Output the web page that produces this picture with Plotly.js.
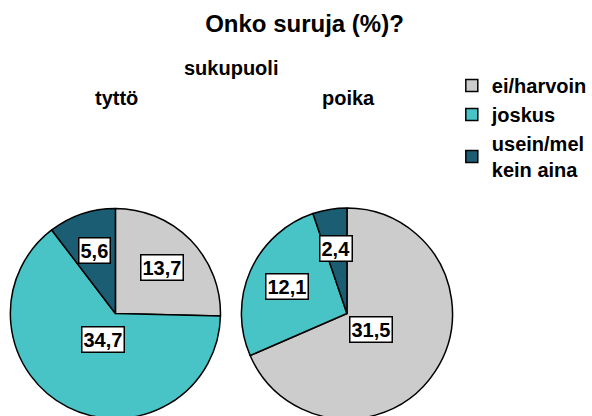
<!DOCTYPE html>
<html>
<head>
<meta charset="utf-8">
<script src="https://cdn.plot.ly/plotly-3.0.1.min.js"></script>
<style>
  html, body { margin: 0; padding: 0; overflow: hidden; background: #ffffff; }
  #chart { width: 592px; height: 440px; }
</style>
</head>
<body>
<div id="chart"></div>
<script>
// ---- data ----
const categories = ['ei/harvoin', 'joskus', 'usein/melkein aina'];
const legendLabels = ['ei/harvoin', 'joskus', 'usein/mel<br>kein aina'];
const groups = ['tyttö', 'poika'];
const tyttoValues = [13.7, 34.7, 5.6];
const poikaValues = [31.5, 12.1, 2.4];

// ---- style / layout ----
const colors = ['#cccccc', '#48c3c6', '#1b5e73'];
const W = 592, H = 440;
const FONT = 'Arial, "Liberation Sans", sans-serif';
const pieGeom = [
  { cx: 117, cy: 313.5, r: 106.5 },
  { cx: 351.7, cy: 313.5, r: 107 }
];
const seriesValues = [tyttoValues, poikaValues];

function domainOf(g) {
  return {
    x: [(g.cx - g.r) / W, (g.cx + g.r) / W],
    y: [(H - g.cy - g.r) / H, (H - g.cy + g.r) / H]
  };
}

const traces = seriesValues.map((vals, i) => ({
  type: 'pie',
  name: groups[i],
  labels: legendLabels,
  values: vals,
  sort: false,
  direction: 'clockwise',
  rotation: 0,
  textinfo: 'none',
  hovertemplate: groups[i] + '<br>%{label}: %{value}<extra></extra>',
  marker: { colors: colors, line: { color: '#000000', width: 1.5 } },
  domain: domainOf(pieGeom[i])
}));

// value labels, placed from each slice's mid-angle
const annotations = [];
seriesValues.forEach((vals, i) => {
  const g = pieGeom[i];
  const total = vals.reduce((a, b) => a + b, 0);
  let cum = 0;
  vals.forEach((v) => {
    const share = v / total;
    const mid = (cum + share / 2) * 2 * Math.PI;
    cum += share;
    const f = share > 0.5 ? 0.27 : 0.62;
    const px = g.cx + f * g.r * Math.sin(mid);
    const py = g.cy - f * g.r * Math.cos(mid);
    annotations.push({
      xref: 'paper', yref: 'paper',
      x: px / W, y: (H - py) / H,
      xanchor: 'center', yanchor: 'middle',
      text: v.toFixed(1).replace('.', ','),
      showarrow: false,
      font: { family: FONT, size: 20, color: '#000000', weight: 'bold' },
      bgcolor: '#ffffff', bordercolor: '#000000', borderwidth: 1.5, borderpad: 1
    });
  });
});

// headings
annotations.push({
  xref: 'paper', yref: 'paper', x: 234 / W, y: (H - 68) / H,
  xanchor: 'center', yanchor: 'middle', showarrow: false, text: 'sukupuoli',
  font: { family: FONT, size: 20, color: '#000000', weight: 'bold' }
});
groups.forEach((gname, i) => {
  annotations.push({
    xref: 'paper', yref: 'paper', x: (i === 0 ? 118 : 353) / W, y: (H - 98) / H,
    xanchor: 'center', yanchor: 'middle', showarrow: false, text: gname,
    font: { family: FONT, size: 20, color: '#000000', weight: 'bold' }
  });
});

const layout = {
  width: W, height: H,
  margin: { l: 0, r: 0, t: 0, b: 0 },
  paper_bgcolor: '#ffffff',
  title: {
    text: 'Onko suruja (%)?',
    font: { family: FONT, size: 24, color: '#000000', weight: 'bold' },
    x: 304.5 / W, xanchor: 'center', y: 1 - 24 / H, yanchor: 'middle'
  },
  showlegend: true,
  legend: {
    x: 458 / W, y: 1 - 66 / H, xanchor: 'left', yanchor: 'top',
    font: { family: FONT, size: 20, color: '#000000', weight: 'bold' },
    bgcolor: 'rgba(0,0,0,0)', itemwidth: 30, tracegroupgap: 0
  },
  annotations: annotations
};

Plotly.newPlot('chart', traces, layout, { displayModeBar: false, staticPlot: true });
</script>
</body>
</html>
